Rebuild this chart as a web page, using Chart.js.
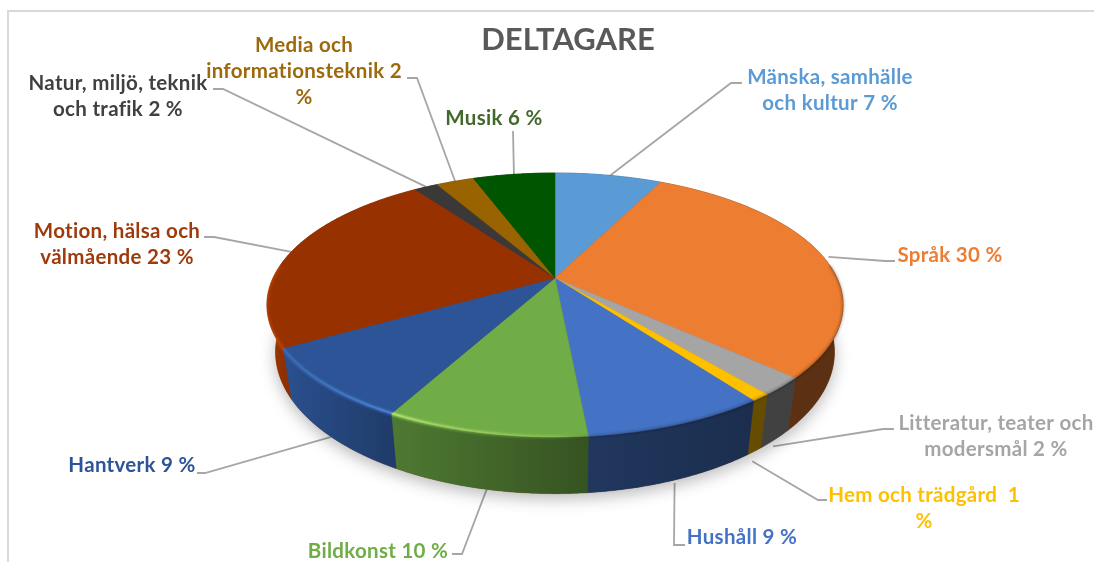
<!DOCTYPE html>
<html>
<head>
<meta charset="utf-8">
<title>Deltagare</title>
<script src="https://cdn.jsdelivr.net/npm/chart.js@4"></script>
<style>
    html, body { margin: 0; padding: 0; background: #fff; overflow: hidden; }
    canvas { display: block; }
</style>
</head>
<body>
<canvas id="pieChart" width="1094" height="562"></canvas>
<script>
const categories = ["Mänska, samhälle och kultur", "Språk", "Litteratur, teater och modersmål", "Hem och trädgård", "Hushåll", "Bildkonst", "Hantverk", "Motion, hälsa och välmående", "Natur, miljö, teknik och trafik", "Media och informationsteknik", "Musik"];
// slice sizes as measured on the picture
const values = [7.3, 29.6, 2.2, 0.9, 8.5, 9.4, 8.8, 23.5, 1.6, 2.6, 5.6];
// the label texts as printed, with their line breaks
const labelLines = [
    ["Mänska, samhälle", "och kultur 7 %"],
    ["Språk 30 %"],
    ["Litteratur, teater och", "modersmål 2 %"],
    ["Hem och trädgård  1", "%"],
    ["Hushåll 9 %"],
    ["Bildkonst 10 %"],
    ["Hantverk 9 %"],
    ["Motion, hälsa och", "välmående 23 %"],
    ["Natur, miljö, teknik", "och trafik 2 %"],
    ["Media och", "informationsteknik 2", "%"],
    ["Musik 6 %"]
];
const sliceColors = ["#5b9bd5", "#ed7d31", "#a5a5a5", "#ffc000", "#4472c4", "#70ad47", "#2c5496", "#973200", "#3b3838", "#996300", "#005500"];
const textColors = ["#5b9bd5", "#ed7d31", "#a5a5a5", "#ffc000", "#4472c4", "#70ad47", "#2c5496", "#9e3a0c", "#404040", "#9c6a0c", "#43682b"];

// where each label sits: text centre, first baseline, leader elbow and end, nudge of the leader start
const labelLayout = [
    { x: 830, y: 84, elbow: [731, 83], end: [742, 83], nudge: [2, 0] },
    { x: 950, y: 262, elbow: [885, 261], end: [895, 261], nudge: [6, 1] },
    { x: 996, y: 430, elbow: [883, 429], end: [894, 429], nudge: [-2, 7] },
    { x: 924, y: 502, elbow: [818, 500], end: [827, 500], nudge: [-2, 10] },
    { x: 742, y: 544, elbow: [674, 545], end: [685, 545], nudge: [0, 3] },
    { x: 378, y: 558, elbow: [462, 554], end: [452, 554], nudge: [0, 0] },
    { x: 132, y: 472, elbow: [205, 473], end: [197, 473], nudge: [0, 0] },
    { x: 117, y: 238, elbow: [214, 237], end: [204, 237], nudge: [0, 0] },
    { x: 118, y: 90, elbow: [223, 89], end: [213, 89], nudge: [0, 0] },
    { x: 304, y: 52, elbow: [417, 78], end: [407, 78], nudge: [0, 0] },
    { x: 494, y: 125, elbow: [513, 131], end: [513, 131], nudge: [0, 0] }
];

// tilted disc: centre, radii, perspective and thickness
const cx = 555, cy = 278, radiusX = 282, radiusY = 126.5, persp = 0.2047, thickness = 45;
// the underside is a little narrower than the top
const bottomShrink = 0.03;
// how dark the wall is from left to right
const wallShade = [[267, 1.05], [285, 0.95], [393, 0.7], [587, 0.48], [750, 0.4], [843, 0.38]];

function project(angle, depth) {
    const x = Math.cos(angle), z = Math.sin(angle);
    const w = 1 - persp * z;
    const shrink = 1 - bottomShrink * depth / thickness;
    return [cx + radiusX * shrink * x / w, cy + (radiusY * z + depth) / w];
}

function traceEdge(ctx, from, to, depth, move) {
    const steps = Math.max(2, Math.ceil(Math.abs(to - from) / 0.01));
    for (let i = 0; i <= steps; i++) {
        const p = project(from + (to - from) * i / steps, depth);
        if (i === 0 && move) ctx.moveTo(p[0], p[1]);
        else ctx.lineTo(p[0], p[1]);
    }
}

function wallGradient(ctx, color) {
    const r = parseInt(color.slice(1, 3), 16), g = parseInt(color.slice(3, 5), 16), b = parseInt(color.slice(5, 7), 16);
    const grad = ctx.createLinearGradient(267, 0, 843, 0);
    wallShade.forEach(s => {
        grad.addColorStop((s[0] - 267) / 576, `rgb(${Math.min(255, r * s[1])},${Math.min(255, g * s[1])},${Math.min(255, b * s[1])})`);
    });
    return grad;
}

const tiltedPie = {
    id: "tiltedPie",
    beforeDatasetsDraw(chart) {
        const ctx = chart.ctx;
        const arcs = chart.getDatasetMeta(0).data;
        const colors = chart.data.datasets[0].backgroundColor;

        // chart frame, runs off the right and bottom of the picture
        ctx.save();
        ctx.strokeStyle = "#d9d9d9";
        ctx.lineWidth = 2;
        ctx.strokeRect(8, 11, 1200, 700);

        // leaders go under the pie
        ctx.strokeStyle = "#a6a6a6";
        ctx.lineWidth = 1.8;
        arcs.forEach((arc, i) => {
            const mid = (arc.startAngle + arc.endAngle) / 2;
            const front = Math.sin(mid) > 0.3;
            const start = project(mid, front ? thickness : 0);
            const l = labelLayout[i];
            ctx.beginPath();
            ctx.moveTo(start[0] + l.nudge[0], start[1] + l.nudge[1]);
            ctx.lineTo(l.elbow[0], l.elbow[1]);
            ctx.lineTo(l.end[0], l.end[1]);
            ctx.stroke();
        });

        // soft shadow under the disc
        ctx.save();
        ctx.shadowColor = "rgba(0,0,0,0.28)";
        ctx.shadowBlur = 16;
        ctx.shadowOffsetY = 5;
        ctx.fillStyle = "#973200";
        ctx.beginPath();
        traceEdge(ctx, 0, Math.PI * 2, thickness, true);
        ctx.closePath();
        ctx.fill();
        ctx.restore();

        // walls
        arcs.forEach((arc, i) => {
            const grad = wallGradient(ctx, colors[i]);
            ctx.fillStyle = grad;
            ctx.strokeStyle = grad;
            ctx.lineWidth = 0.5;
            ctx.beginPath();
            traceEdge(ctx, arc.startAngle, arc.endAngle, 0, true);
            traceEdge(ctx, arc.endAngle, arc.startAngle, thickness, false);
            ctx.closePath();
            ctx.fill();
            ctx.stroke();
        });

        // top faces
        arcs.forEach((arc, i) => {
            ctx.fillStyle = colors[i];
            ctx.strokeStyle = colors[i];
            ctx.lineWidth = 0.5;
            ctx.beginPath();
            ctx.moveTo(cx, cy);
            traceEdge(ctx, arc.startAngle, arc.endAngle, 0, false);
            ctx.closePath();
            ctx.fill();
            ctx.stroke();
        });

        // bevel along the front rim: keeps the slice colour on the left, darkens on the right
        const glow = ctx.createLinearGradient(267, 0, 843, 0);
        glow.addColorStop(0, "rgba(255,255,255,0.25)");
        glow.addColorStop(0.03, "rgba(255,255,255,0.35)");
        glow.addColorStop(0.22, "rgba(255,255,255,0.8)");
        glow.addColorStop(0.3, "rgba(255,255,255,0.6)");
        glow.addColorStop(0.5, "rgba(255,255,255,0.25)");
        glow.addColorStop(0.56, "rgba(255,255,255,0)");
        glow.addColorStop(1, "rgba(255,255,255,0)");
        ctx.filter = "blur(1px)";
        ctx.globalCompositeOperation = "overlay";
        ctx.strokeStyle = glow;
        ctx.lineWidth = 3;
        ctx.beginPath();
        traceEdge(ctx, -0.1, Math.PI + 0.1, 0, true);
        ctx.stroke();
        ctx.globalCompositeOperation = "source-over";
        const dark = ctx.createLinearGradient(267, 0, 843, 0);
        dark.addColorStop(0.5, "rgba(0,0,0,0)");
        dark.addColorStop(0.62, "rgba(0,0,0,0.18)");
        dark.addColorStop(1, "rgba(0,0,0,0.22)");
        ctx.strokeStyle = dark;
        ctx.beginPath();
        traceEdge(ctx, -0.1, Math.PI + 0.1, 0, true);
        ctx.stroke();
        ctx.filter = "none";

        // labels
        ctx.font = "bold 20.5px Lato";
        ctx.letterSpacing = "0.3px";
        ctx.textAlign = "center";
        ctx.textBaseline = "alphabetic";
        labelLines.forEach((lines, i) => {
            ctx.fillStyle = textColors[i];
            lines.forEach((line, n) => {
                ctx.fillText(line, labelLayout[i].x, labelLayout[i].y + n * 26);
            });
        });
        ctx.restore();
        return false; // the library's flat arcs are replaced by the tilted ones
    }
};

new Chart(document.getElementById("pieChart").getContext("2d"), {
    type: "pie",
    data: {
        labels: categories,
        datasets: [{ data: values, backgroundColor: sliceColors, borderWidth: 0 }]
    },
    options: {
        responsive: false,
        animation: false,
        events: [],
        layout: { padding: { left: 42 } },
        plugins: {
            legend: { display: false },
            tooltip: { enabled: false },
            title: {
                display: true,
                text: "DELTAGARE",
                color: "#595959",
                font: { family: "Lato", size: 31, weight: "bold" },
                padding: { top: 21, bottom: 10 }
            }
        }
    },
    plugins: [tiltedPie]
});
</script>
</body>
</html>
